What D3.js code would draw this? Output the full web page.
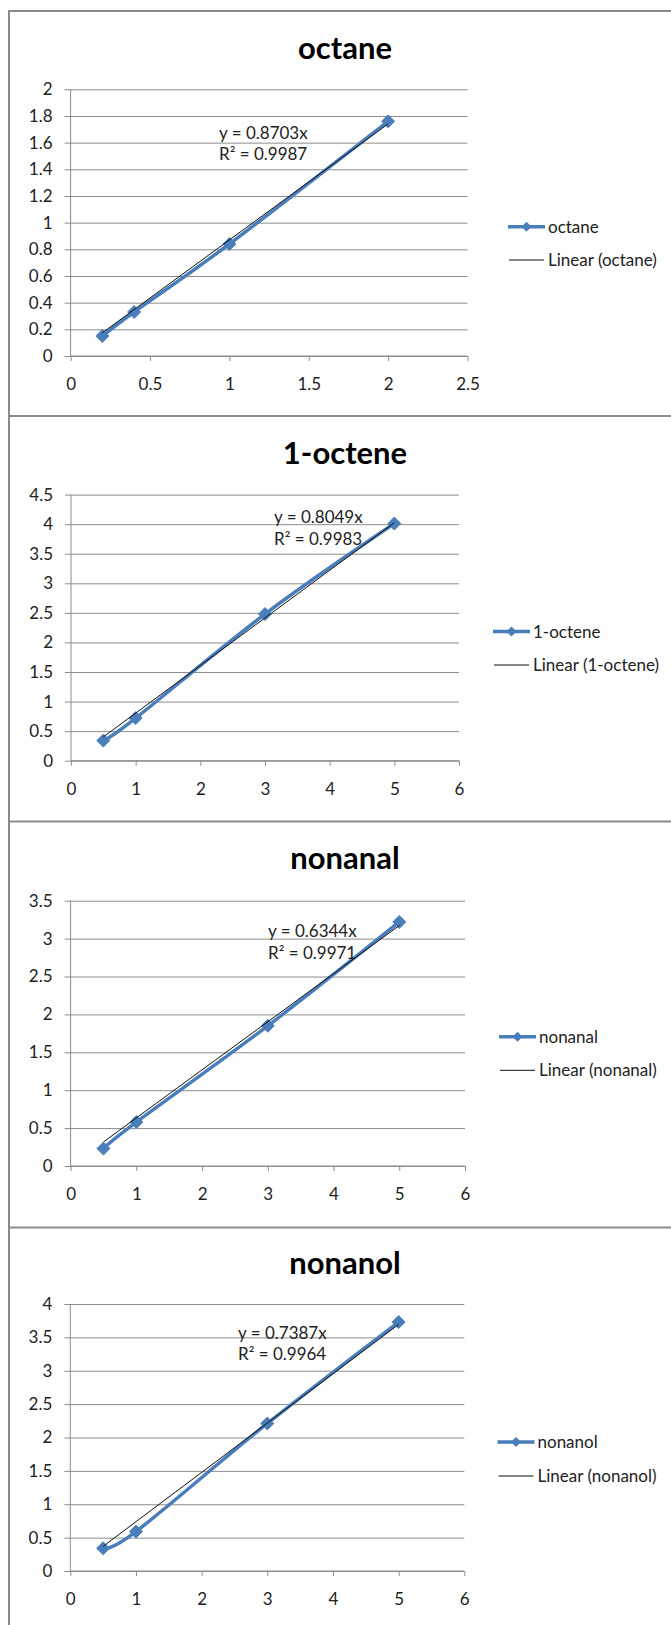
<!DOCTYPE html>
<html>
<head>
<meta charset="utf-8">
<script src="https://cdn.jsdelivr.net/npm/d3@7/dist/d3.min.js"></script>
<style>
  html, body { margin: 0; padding: 0; background: #ffffff; }
  svg { display: block; }
  text { font-family: Lato, "Open Sans", sans-serif; fill: #222; }
</style>
</head>
<body>
<svg id="chart" width="671" height="1625"></svg>
<script>
// ---------------- data ----------------
const titles = ["octane", "1-octene", "nonanal", "nonanol"];
const xValues = [
  [0.2, 0.4, 1, 2],
  [0.5, 1, 3, 5],
  [0.5, 1, 3, 5],
  [0.5, 1, 3, 5]
];
const yValues = [
  [0.15, 0.33, 0.84, 1.76],
  [0.34, 0.72, 2.48, 4.01],
  [0.23, 0.58, 1.85, 3.22],
  [0.34, 0.59, 2.21, 3.73]
];
const slopes = [0.8703, 0.8049, 0.6344, 0.7387];
const rSquared = [0.9987, 0.9983, 0.9971, 0.9964];
const xAxisMax = [2.5, 6, 6, 6];
const xAxisStep = [0.5, 1, 1, 1];
const yAxisMax = [2, 4.5, 3.5, 4];
const yAxisStep = [0.2, 0.5, 0.5, 0.5];

// ---------------- layout ----------------
const panelTops = [11, 416, 821.5, 1227.5];
const plotBoxes = [
  {x0: 70.6, x1: 467.5, yTop: 89.3,  yBot: 356},
  {x0: 71.0, x1: 459.0, yTop: 494.6, yBot: 760.7},
  {x0: 70.6, x1: 465.0, yTop: 900.7, yBot: 1166},
  {x0: 70.3, x1: 464.3, yTop: 1304,  yBot: 1571}
];
const titleY = [48, 453, 857.7, 1263];
const titleX = 345;
const legendPos = [
  {x: 508, y1: 226.7, y2: 260},
  {x: 493, y1: 631.6, y2: 665},
  {x: 499, y1: 1036.7, y2: 1070.3},
  {x: 497.5, y1: 1442, y2: 1476}
];
const labelPos = [
  {x: 219, y1: 133.3, y2: 154},
  {x: 274, y1: 516.6, y2: 538.6},
  {x: 268, y1: 931, y2: 952.7},
  {x: 238, y1: 1332.7, y2: 1354}
];

const blue = "#4A7EBB";
const gridColor = "#8c8c8c";
const borderColor = "#8a8a8a";

const svg = d3.select("#chart");
svg.append("rect").attr("width", 671).attr("height", 1625).attr("fill", "#fff");

// frame
const frame = svg.append("g").attr("stroke", borderColor).attr("stroke-width", 2).attr("fill", "none");
frame.append("line").attr("x1", 9).attr("x2", 9).attr("y1", 10).attr("y2", 1625);
panelTops.forEach(t => {
  frame.append("line").attr("x1", 8).attr("x2", 671).attr("y1", t).attr("y2", t);
});

function fmt(v) { return String(+v.toFixed(2)); }

function diamondPath(r) {
  return `M0,${-r}L${r},0L0,${r}L${-r},0Z`;
}

titles.forEach((title, i) => {
  const box = plotBoxes[i];
  const g = svg.append("g");
  const x = d3.scaleLinear().domain([0, xAxisMax[i]]).range([box.x0, box.x1]);
  const y = d3.scaleLinear().domain([0, yAxisMax[i]]).range([box.yBot, box.yTop]);

  const xTicks = d3.range(0, xAxisMax[i] + xAxisStep[i] / 2, xAxisStep[i]);
  const yTicks = d3.range(0, yAxisMax[i] + yAxisStep[i] / 2, yAxisStep[i]);

  // title
  g.append("text")
    .attr("x", titleX).attr("y", titleY[i])
    .attr("dy", "0.35em")
    .attr("text-anchor", "middle")
    .attr("font-weight", "bold")
    .attr("font-size", 31)
    .style("fill", "#000")
    .text(title);

  // horizontal gridlines (with tick stubs)
  const yAxis = d3.axisLeft(y).tickValues(yTicks).tickSize(-(box.x1 - box.x0)).tickPadding(18).tickFormat(fmt);
  const ya = g.append("g").attr("transform", `translate(${box.x0},0)`).call(yAxis);
  ya.select(".domain").attr("stroke", gridColor).attr("d", `M0,${box.yTop}V${box.yBot}`);
  ya.selectAll(".tick line").attr("stroke", gridColor).attr("x1", -6);
  ya.selectAll(".tick text").attr("font-size", 17).attr("font-family", "Lato, sans-serif").attr("fill", "#222");

  // x axis
  const xAxis = d3.axisBottom(x).tickValues(xTicks).tickSize(5).tickPadding(17).tickFormat(fmt);
  const xa = g.append("g").attr("transform", `translate(0,${box.yBot})`).call(xAxis);
  xa.select(".domain").attr("stroke", gridColor).attr("d", `M${box.x0},0H${box.x1}`);
  xa.selectAll(".tick line").attr("stroke", gridColor);
  xa.selectAll(".tick text").attr("font-size", 17).attr("font-family", "Lato, sans-serif").attr("fill", "#222");

  // series
  const pts = xValues[i].map((xv, k) => [xv, yValues[i][k]]);
  const line = d3.line().x(d => x(d[0])).y(d => y(d[1])).curve(d3.curveCardinal.tension(0));
  g.append("path").datum(pts)
    .attr("d", line)
    .attr("fill", "none")
    .attr("stroke", blue)
    .attr("stroke-width", 3.5)
    .attr("stroke-linejoin", "round");
  g.selectAll(".mk").data(pts).enter().append("path")
    .attr("transform", d => `translate(${x(d[0])},${y(d[1])})`)
    .attr("d", diamondPath(6.5))
    .attr("fill", blue).attr("stroke", blue).attr("stroke-width", 1);

  // trendline (through origin)
  const xmin = d3.min(xValues[i]), xmax = d3.max(xValues[i]);
  const trend = [[xmin, slopes[i] * xmin], [xmax, slopes[i] * xmax]];
  g.append("path").datum(trend)
    .attr("d", d3.line().x(d => x(d[0])).y(d => y(d[1])))
    .attr("stroke", "#111").attr("stroke-width", 1).attr("fill", "none");

  // trendline label
  const lp = labelPos[i];
  g.append("text").attr("x", lp.x).attr("y", lp.y1).attr("dy", "0.35em")
    .attr("font-size", 17).text(`y = ${slopes[i].toFixed(4)}x`);
  g.append("text").attr("x", lp.x).attr("y", lp.y2).attr("dy", "0.35em")
    .attr("font-size", 17).text(`R² = ${rSquared[i].toFixed(4)}`);

  // legend
  const lg = legendPos[i];
  g.append("line").attr("x1", lg.x).attr("x2", lg.x + 37).attr("y1", lg.y1).attr("y2", lg.y1)
    .attr("stroke", blue).attr("stroke-width", 3.5);
  g.append("path").attr("transform", `translate(${lg.x + 18.5},${lg.y1})`)
    .attr("d", diamondPath(5)).attr("fill", blue);
  g.append("text").attr("x", lg.x + 40).attr("y", lg.y1).attr("dy", "0.35em")
    .attr("font-size", 17).text(title);
  g.append("line").attr("x1", lg.x + 1).attr("x2", lg.x + 36).attr("y1", lg.y2).attr("y2", lg.y2)
    .attr("stroke", "#111").attr("stroke-width", 1);
  g.append("text").attr("x", lg.x + 40).attr("y", lg.y2).attr("dy", "0.35em")
    .attr("font-size", 17).text(`Linear (${title})`);
});
</script>
</body>
</html>
